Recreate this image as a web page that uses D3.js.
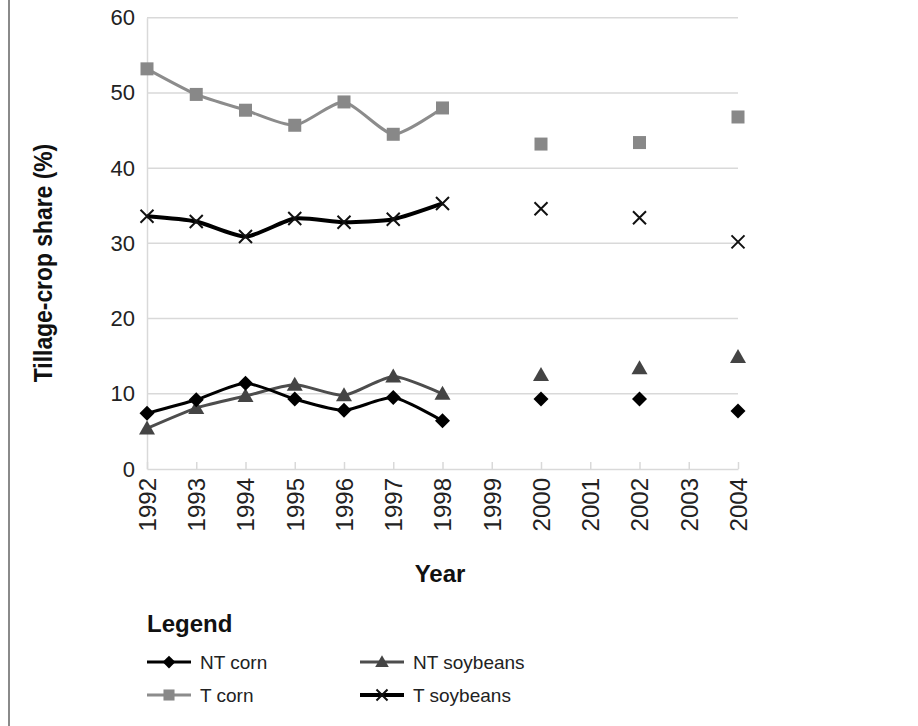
<!DOCTYPE html>
<html><head><meta charset="utf-8">
<script src="https://cdn.jsdelivr.net/npm/d3@7"></script>
<style>
html,body{margin:0;padding:0;background:#fff;}
svg{display:block;}
</style></head>
<body>
<svg id="chart" width="918" height="726"></svg>
<script>
const years = [1992,1993,1994,1995,1996,1997,1998,2000,2002,2004];
const ntCorn = [7.4,9.2,11.4,9.3,7.8,9.5,6.4,9.3,9.3,7.7];
const ntSoy = [5.4,8.1,9.7,11.2,9.8,12.3,10.0,12.5,13.4,14.9];
const tCorn = [53.2,49.8,47.7,45.7,48.8,44.5,48.0,43.2,43.4,46.8];
const tSoy = [33.6,32.9,30.9,33.3,32.8,33.2,35.3,34.6,33.4,30.2];
const xTicks = [1992,1993,1994,1995,1996,1997,1998,1999,2000,2001,2002,2003,2004];
const yTicks = [0,10,20,30,40,50,60];
const seriesNames = ["NT corn","NT soybeans","T corn","T soybeans"];

const series = [
  {name:seriesNames[0], vals:ntCorn, color:"#000", lw:3, marker:"diamond", mcolor:"#000"},
  {name:seriesNames[1], vals:ntSoy, color:"#4d4d4d", lw:3, marker:"triangle", mcolor:"#444"},
  {name:seriesNames[2], vals:tCorn, color:"#8c8c8c", lw:3, marker:"square", mcolor:"#888"},
  {name:seriesNames[3], vals:tSoy, color:"#000", lw:4, marker:"x", mcolor:"#111"}
];

const svg = d3.select("#chart");
const x = d3.scaleLinear().domain([1992,2004]).range([147,738]);
const y = d3.scaleLinear().domain([0,60]).range([469,17.7]);

// left border
svg.append("line").attr("x1",9).attr("x2",9).attr("y1",0).attr("y2",726)
  .attr("stroke","#8a8a8a").attr("stroke-width",2);

// gridlines
svg.append("g").selectAll("line").data(yTicks.filter(d=>d>0)).join("line")
  .attr("x1",x(1992)).attr("x2",x(2004)).attr("y1",d=>y(d)).attr("y2",d=>y(d))
  .attr("stroke","#d9d9d9").attr("stroke-width",1.5);

// y axis
const yAxis = svg.append("g").attr("transform",`translate(${x(1992)},0)`)
  .call(d3.axisLeft(y).tickValues(yTicks).tickSize(0).tickPadding(12));
yAxis.select(".domain").attr("stroke","#d9d9d9").attr("stroke-width",1.5);
yAxis.selectAll("text").attr("font-family","Liberation Sans, Arial, sans-serif")
  .attr("font-size",22).attr("fill","#222");

// x axis
const xAxis = svg.append("g").attr("transform",`translate(0,${y(0)})`)
  .call(d3.axisBottom(x).tickValues(xTicks).tickFormat(d3.format("d")).tickSizeInner(-7).tickSizeOuter(0).tickPadding(10));
xAxis.select(".domain").attr("stroke","#d9d9d9").attr("stroke-width",1.5);
xAxis.selectAll(".tick line").attr("stroke","#d9d9d9").attr("stroke-width",1.5);
xAxis.selectAll("text").attr("font-family","Liberation Sans, Arial, sans-serif")
  .attr("font-size",24).attr("fill","#222")
  .attr("transform","rotate(-90)").attr("text-anchor","end")
  .attr("x",-9).attr("y",0).attr("dy","0.35em");

// axis titles
svg.append("text").attr("transform",`translate(52,263) rotate(-90) scale(0.88,1)`)
  .attr("text-anchor","middle").attr("font-family","Liberation Sans, Arial, sans-serif")
  .attr("font-weight","bold").attr("font-size",26).attr("fill","#111").text("Tillage-crop share (%)");
svg.append("text").attr("x",440).attr("y",582).attr("text-anchor","middle")
  .attr("font-family","Liberation Sans, Arial, sans-serif").attr("font-weight","bold")
  .attr("font-size",24).attr("fill","#111").text("Year");

// lines (consecutive annual segments only)
function segments(vals){
  const segs=[]; let cur=[];
  years.forEach((yr,i)=>{
    if(cur.length && yr-years[i-1]!==1){ segs.push(cur); cur=[]; }
    cur.push([yr,vals[i]]);
  });
  segs.push(cur);
  return segs.filter(s=>s.length>1);
}
const line = d3.line().x(d=>x(d[0])).y(d=>y(d[1])).curve(d3.curveCardinal.tension(0.35));

function drawMarker(g, type, cx, cy, color, scale){
  const s = scale||1;
  if(type==="square"){
    g.append("rect").attr("x",cx-6.5*s).attr("y",cy-6.5*s).attr("width",13*s).attr("height",13*s).attr("fill",color);
  } else if(type==="diamond"){
    const r=7.5*s;
    g.append("path").attr("d",`M${cx},${cy-r}L${cx+r},${cy}L${cx},${cy+r}L${cx-r},${cy}Z`).attr("fill",color);
  } else if(type==="triangle"){
    const r=8*s;
    g.append("path").attr("d",`M${cx},${cy-r}L${cx+r},${cy+r*0.75}L${cx-r},${cy+r*0.75}Z`).attr("fill",color);
  } else if(type==="x"){
    const r=6.5*s;
    g.append("path").attr("d",`M${cx-r},${cy-r}L${cx+r},${cy+r}M${cx+r},${cy-r}L${cx-r},${cy+r}`)
      .attr("stroke",color).attr("stroke-width",2).attr("fill","none");
  }
}

const plot = svg.append("g");
// draw order: T corn, NT soybeans, NT corn, T soybeans
[2,1,0,3].forEach(k=>{
  const s=series[k];
  plot.append("g").selectAll("path").data(segments(s.vals)).join("path")
    .attr("d",line).attr("fill","none").attr("stroke",s.color).attr("stroke-width",s.lw)
    .attr("stroke-linejoin","round");
});
[2,1,0,3].forEach(k=>{
  const s=series[k];
  const g=plot.append("g");
  years.forEach((yr,i)=>drawMarker(g,s.marker,x(yr),y(s.vals[i]),s.mcolor));
});

// legend
svg.append("text").attr("x",147).attr("y",632).attr("font-family","Liberation Sans, Arial, sans-serif")
  .attr("font-weight","bold").attr("font-size",24).attr("fill","#111").text("Legend");
const legPos = [[147,662],[360,662],[147,695],[360,695]];
series.forEach((s,i)=>{
  const [lx,ly]=legPos[i];
  const g=svg.append("g");
  g.append("line").attr("x1",lx).attr("x2",lx+44).attr("y1",ly).attr("y2",ly)
    .attr("stroke",s.color).attr("stroke-width",s.lw);
  drawMarker(g,s.marker,lx+22,ly,s.mcolor,0.85);
  g.append("text").attr("x",lx+53).attr("y",ly).attr("dy","0.35em")
    .attr("font-family","Liberation Sans, Arial, sans-serif").attr("font-size",19).attr("fill","#222").text(s.name);
});
</script>
</body></html>
